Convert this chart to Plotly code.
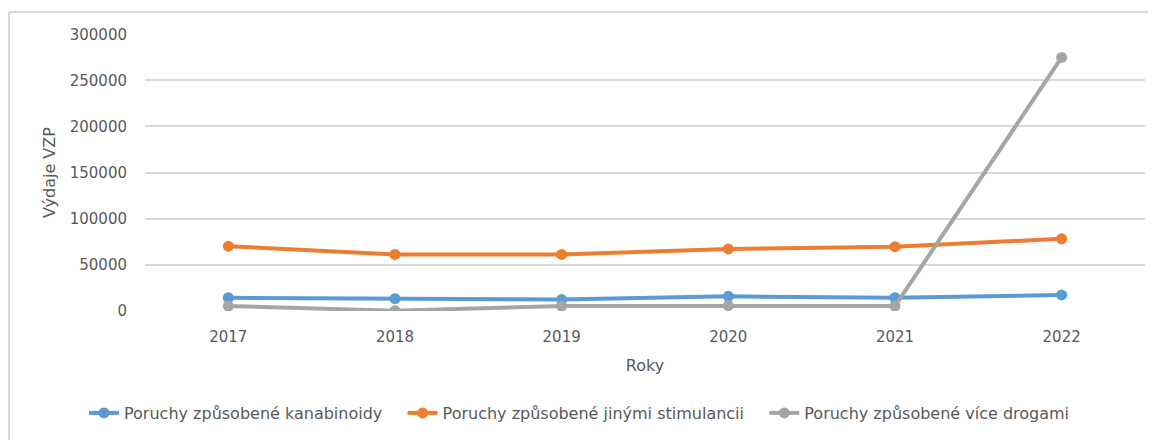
import plotly.graph_objects as go

years = ["2017", "2018", "2019", "2020", "2021", "2022"]
kanabinoidy = [14000, 13000, 12000, 15500, 14000, 17000]
stimulancii = [70000, 61000, 61000, 67000, 69500, 78000]
vice_drogami = [5000, 0, 5000, 5500, 5000, 275000]

NB = "\u00a0"
names = ["Poruchy způsobené kanabinoidy" + NB * 3,
         "Poruchy způsobené jinými stimulancii" + NB * 3,
         "Poruchy způsobené více drogami"]
colors = ["#5B9BD5", "#ED7D31", "#A5A5A5"]
series = [kanabinoidy, stimulancii, vice_drogami]

FONT = "DejaVu Sans"
TXT = "#595959"

fig = go.Figure()
for n, c, s in zip(names, colors, series):
    fig.add_trace(go.Scatter(x=years, y=s, name=n, mode="lines+markers",
                             line=dict(color=c, width=4),
                             marker=dict(color=c, size=11)))

# page has an 8px body offset; screen coords below are reference pixels
OFF = 8
W, H = 1156, 440
L = 145 - OFF
T = 34 - OFF
R = W - (1145 - OFF)
B = H - (311 - OFF)
pw, ph = W - L - R, H - T - B

def px(x):
    return (x - OFF - L) / pw

def py(y):
    return (H - B - (y - OFF)) / ph

fig.update_layout(
    width=W, height=H,
    margin=dict(l=L, r=R, t=T, b=B, autoexpand=False),
    paper_bgcolor="white", plot_bgcolor="white",
    font=dict(family=FONT, size=15, color=TXT),
    showlegend=True,
    legend=dict(orientation="h", x=px(84), xanchor="left",
                y=py(413), yanchor="middle",
                font=dict(family=FONT, size=16, color=TXT),
                itemwidth=30, tracegroupgap=0),
    xaxis=dict(type="category", range=[-0.5, 5.5], showgrid=False, showline=False,
               zeroline=False, ticks="", ticklabelstandoff=15,
               tickfont=dict(size=15, color=TXT), automargin=False,
               title=dict(text="Roky", font=dict(size=16, color=TXT), standoff=14)),
    yaxis=dict(range=[-400, 300400], dtick=50000, tick0=0, showgrid=True,
               gridcolor="#D9D9D9", gridwidth=1.5, zeroline=False, showline=False,
               ticks="", ticklabelstandoff=17, tickformat="d", automargin=False,
               tickfont=dict(size=15, color=TXT),
               title=dict(text="Výdaje VZP", font=dict(size=16, color=TXT), standoff=10)),
    shapes=[
        dict(type="line", xref="paper", yref="paper", x0=px(9), x1=px(1170),
             y0=py(12), y1=py(12), line=dict(color="#D9D9D9", width=2)),
        dict(type="line", xref="paper", yref="paper", x0=px(9), x1=px(9),
             y0=py(12), y1=py(460), line=dict(color="#D9D9D9", width=2)),
    ],
)

fig.write_html("out.html")
